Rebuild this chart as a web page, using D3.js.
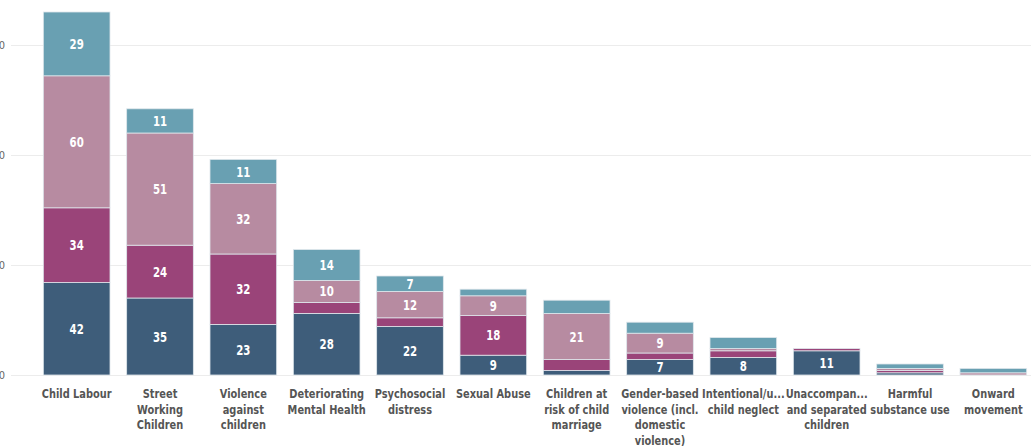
<!DOCTYPE html>
<html>
<head>
<meta charset="utf-8">
<script src="https://cdn.jsdelivr.net/npm/d3@7"></script>
<style>
  body { margin: 0; background: #fff; }
  svg { display: block; }
</style>
</head>
<body>
<svg id="chart" width="1031" height="446"></svg>
<script>
// Category labels, as wrapped in the picture
const categories = [
    "Child Labour",
    "Street\nWorking\nChildren",
    "Violence\nagainst\nchildren",
    "Deteriorating\nMental Health",
    "Psychosocial\ndistress",
    "Sexual Abuse",
    "Children at\nrisk of child\nmarriage",
    "Gender-based\nviolence (incl.\ndomestic\nviolence)",
    "Intentional/u...\nchild neglect",
    "Unaccompan...\nand separated\nchildren",
    "Harmful\nsubstance use",
    "Onward\nmovement"
];

// Series, bottom to top
const seriesA = [42, 35, 23, 28, 22, 9, 2, 7, 8, 11, 1, 0];
const seriesB = [34, 24, 32, 5, 4, 18, 5, 3, 3, 1, 1, 0];
const seriesC = [60, 51, 32, 10, 12, 9, 21, 9, 1, 0, 1, 1];
const seriesD = [29, 11, 11, 14, 7, 3, 6, 5, 5, 0, 2, 2];

const yTicks = [0, 50, 100, 150];
const colors = ["#3e5d7a", "#9a4479", "#b78ba1", "#69a0b2"];

const FONT = "'DejaVu Sans Condensed', sans-serif";
const squeeze = 0.84; // condensed look of the original face

const svg = d3.select("#chart");

const x = d3.scaleBand()
    .domain(d3.range(categories.length))
    .range([35, 1035])
    .paddingInner(0.2)
    .paddingOuter(0.1);

const y = d3.scaleLinear().domain([0, 170]).range([375, 1]);

// Gridlines + cut-off y labels
svg.append("g")
    .selectAll("line")
    .data(yTicks)
    .join("line")
    .attr("x1", 11).attr("x2", 1031)
    .attr("y1", d => Math.round(y(d)) + 0.5)
    .attr("y2", d => Math.round(y(d)) + 0.5)
    .attr("stroke", "#ececec");

svg.append("g")
    .selectAll("text")
    .data(yTicks)
    .join("text")
    .attr("x", 5)
    .attr("y", d => y(d) + 4)
    .attr("text-anchor", "end")
    .attr("fill", "#666")
    .style("font", "11px " + FONT)
    .text(d => d);

// Stack the series
const rows = categories.map((c, i) => ({ i, a: seriesA[i], b: seriesB[i], c: seriesC[i], d: seriesD[i] }));
const stack = d3.stack().keys(["a", "b", "c", "d"])(rows);

const layers = svg.append("g")
    .selectAll("g")
    .data(stack)
    .join("g")
    .attr("fill", (d, k) => colors[k]);

layers.selectAll("rect")
    .data(d => d.filter(p => p[1] > p[0]))
    .join("rect")
    .attr("x", p => x(p.data.i))
    .attr("width", x.bandwidth())
    .attr("y", p => y(p[1]))
    .attr("height", p => y(p[0]) - y(p[1]))
    .attr("stroke", "#dfe7ec")
    .attr("stroke-width", 0.8);

// Value labels inside larger segments
layers.selectAll("text")
    .data(d => d.filter(p => p[1] - p[0] >= 7))
    .join("text")
    .attr("transform", p => `translate(${x(p.data.i) + x.bandwidth() / 2},${(y(p[0]) + y(p[1])) / 2 + 5}) scale(${squeeze},1)`)
    .attr("text-anchor", "middle")
    .attr("fill", "#fff")
    .style("font", "bold 13.5px " + FONT)
    .text(p => p[1] - p[0]);

// Category labels
const labels = svg.append("g")
    .selectAll("text")
    .data(categories)
    .join("text")
    .attr("transform", (d, i) => `translate(${x(i) + x.bandwidth() / 2},398) scale(${squeeze},1)`)
    .attr("text-anchor", "middle")
    .attr("fill", "#555")
    .style("font", "bold 13px " + FONT);

labels.selectAll("tspan")
    .data(d => d.split("\n"))
    .join("tspan")
    .attr("x", 0)
    .attr("dy", (d, j) => j === 0 ? 0 : 15.7)
    .text(d => d);
</script>
</body>
</html>
